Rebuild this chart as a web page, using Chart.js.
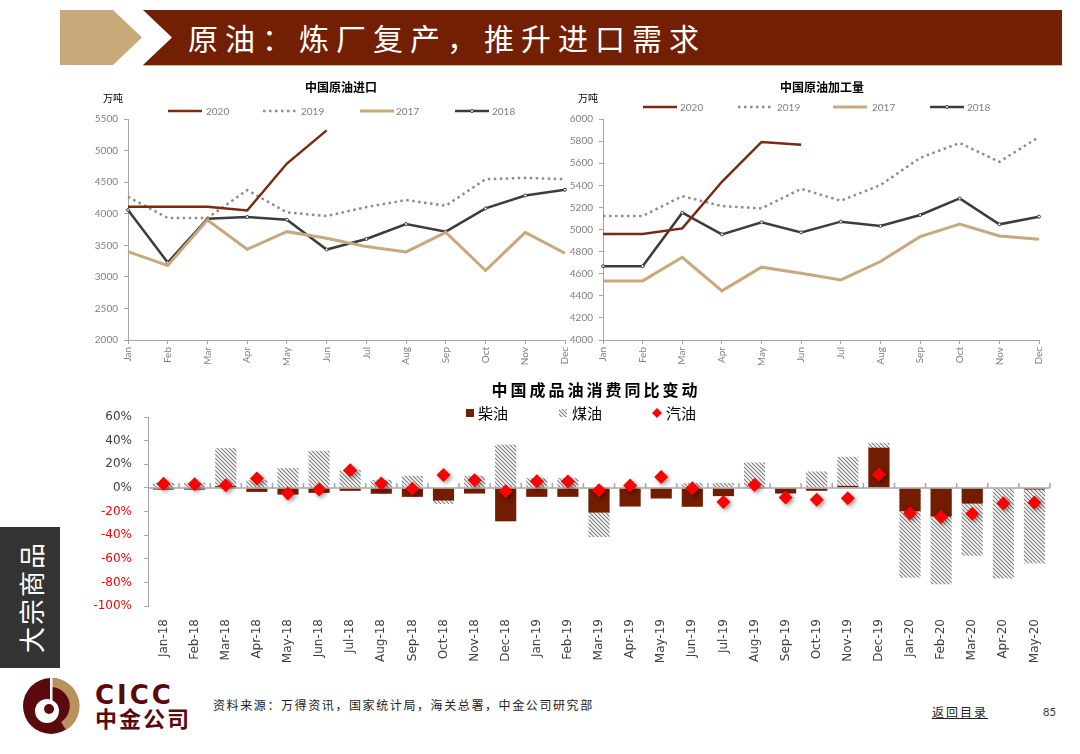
<!DOCTYPE html>
<html>
<head>
<meta charset="utf-8">
<script src="https://cdn.jsdelivr.net/npm/chart.js@4.4.0/dist/chart.umd.min.js"></script>
<style>
  body { margin: 0; width: 1080px; height: 754px; background: #fff; position: relative; overflow: hidden; font-family: "Noto Sans CJK SC", sans-serif; }
  .abs { position: absolute; }
  .tan { left: 60px; top: 10px; width: 82px; height: 55px; background: #c9a97a; clip-path: polygon(0 0, 53px 0, 82px 50%, 53px 100%, 0 100%); }
  .banner { left: 143px; top: 10px; width: 919px; height: 55px; background: #731f03; clip-path: polygon(0 0, 100% 0, 100% 100%, 0 100%, 29px 50%); }
  .bannerLine { left: 143px; top: 65px; width: 919px; height: 1px; background: #d8b89a; }
  .banner span { position: absolute; left: 45px; top: 0; line-height: 55px; font-size: 30px; color: #fff; letter-spacing: 7px; white-space: nowrap; }
  .tab { left: 0; top: 527px; width: 60px; height: 141px; background: #333; }
  .tab span { position: absolute; left: 30px; top: 70px; transform: translate(-50%, -50%) rotate(-90deg); color: #fff; font-size: 26px; letter-spacing: 2px; white-space: nowrap; }
  .cicc { left: 95px; top: 680px; font: bold 26px "DejaVu Sans", sans-serif; color: #5a0a0e; letter-spacing: 3px; }
  .zj { left: 95px; top: 704px; font-weight: bold; font-size: 22px; color: #5a0a0e; letter-spacing: 2px; line-height: 26px; }
  .src { left: 213px; top: 696px; font-size: 12px; color: #222; letter-spacing: 1.6px; white-space: nowrap; line-height: 18px; }
  .back { left: 932px; top: 703px; font-size: 12px; color: #222; letter-spacing: 2px; text-decoration: underline; line-height: 18px; }
  .page { left: 1043px; top: 704px; font: 11px Lato, sans-serif; color: #333; line-height: 16px; }
  canvas { position: absolute; }
</style>
</head>
<body>
<div class="abs tan"></div>
<div class="abs banner"><span>原油：炼厂复产，推升进口需求</span></div>
<div class="abs bannerLine"></div>
<div class="abs tab"><span>大宗商品</span></div>

<svg class="abs" style="left:20px;top:676px" width="64" height="62" viewBox="20 676 64 62">
  <circle cx="51" cy="706" r="28" fill="#5a0a0e"/>
  <path d="M51 678 A28 28 0 0 1 66 730 L61 722 A19 19 0 0 0 51 687 Z" fill="#b8915c"/>
  <circle cx="47" cy="711" r="12" fill="#fff"/>
  <circle cx="49" cy="709" r="5" fill="#5a0a0e"/>
  <rect x="50" y="678" width="2.5" height="26" fill="#fff"/>
</svg>
<div class="abs cicc">CICC</div>
<div class="abs zj">中金公司</div>
<div class="abs src">资料来源：万得资讯，国家统计局，海关总署，中金公司研究部</div>
<div class="abs back">返回目录</div>
<div class="abs page">85</div>

<canvas id="imp" width="520" height="290" style="left:60px;top:80px;width:520px;height:290px"></canvas>
<canvas id="run" width="505" height="290" style="left:555px;top:80px;width:505px;height:290px"></canvas>
<canvas id="yoy" width="1010" height="320" style="left:60px;top:375px;width:1010px;height:320px"></canvas>

<script>
// ---- data ----
const months = ['Jan', 'Feb', 'Mar', 'Apr', 'May', 'Jun', 'Jul', 'Aug', 'Sep', 'Oct', 'Nov', 'Dec'];

// 中国原油进口 (万吨)
const import2020 = [4110, 4110, 4110, 4050, 4795, 5320];
const import2019 = [4268, 3932, 3932, 4374, 4021, 3963, 4105, 4216, 4126, 4547, 4568, 4547];
const import2017 = [3400, 3179, 3900, 3437, 3716, 3611, 3479, 3395, 3705, 3100, 3705, 3374];
const import2018 = [4058, 3226, 3921, 3947, 3905, 3432, 3600, 3837, 3716, 4084, 4289, 4379];

// 中国原油加工量 (万吨)
const run2020 = [4959, 4959, 5010, 5432, 5792, 5768];
const run2019 = [5122, 5122, 5302, 5212, 5191, 5368, 5260, 5402, 5648, 5783, 5612, 5838];
const run2017 = [4535, 4535, 4749, 4445, 4659, 4605, 4544, 4710, 4935, 5050, 4941, 4911];
const run2018 = [4668, 4668, 5152, 4956, 5065, 4974, 5071, 5032, 5131, 5281, 5047, 5116];

// 中国成品油消费同比变动 (%)
const yoyMonths = ['Jan-18', 'Feb-18', 'Mar-18', 'Apr-18', 'May-18', 'Jun-18', 'Jul-18', 'Aug-18', 'Sep-18', 'Oct-18', 'Nov-18', 'Dec-18',
  'Jan-19', 'Feb-19', 'Mar-19', 'Apr-19', 'May-19', 'Jun-19', 'Jul-19', 'Aug-19', 'Sep-19', 'Oct-19', 'Nov-19', 'Dec-19',
  'Jan-20', 'Feb-20', 'Mar-20', 'Apr-20', 'May-20'];
const diesel = [-1.5, -1.5, 1.5, -3.4, -5.7, -4.2, -2.5, -5, -7.6, -10.7, -4.8, -28.3,
  -7.6, -7.6, -20.9, -15.8, -9, -16, -7, 0.5, -4.8, -2.5, 1.7, 34,
  -19.8, -24.3, -13.3, 0, -1.4];
const kerosene = [4.2, 4.2, 33.7, 6.5, 16.7, 31.4, 15, 6.8, 10.2, -13.6, 10.2, 36.8,
  8.2, 8.2, -41.6, -5, -3, 4.2, 4.2, 21.5, -2, 13.9, 26.3, 38.2,
  -76, -81.5, -57.4, -76.7, -64];
const gasoline = [3.4, 3, 2.3, 8, -4.8, -1.4, 15, 3.7, -0.8, 11, 6.5, -2.8,
  5.7, 5.4, -2, 2, 9.3, -0.3, -12, 2.5, -8.2, -10, -8.8, 11.3,
  -21.5, -24.6, -21.8, -13, -12.4];

// ---- helpers ----
function makeHatch() {
  const c = document.createElement('canvas');
  c.width = 4; c.height = 4;
  const g = c.getContext('2d');
  g.fillStyle = '#fff';
  g.fillRect(0, 0, 4, 4);
  g.strokeStyle = '#7a7a7a';
  g.lineWidth = 1.1;
  g.beginPath();
  g.moveTo(-1, -1); g.lineTo(5, 5);
  g.moveTo(-1, 3); g.lineTo(1, 5);
  g.moveTo(3, -1); g.lineTo(5, 1);
  g.stroke();
  return g.createPattern(c, 'repeat');
}

// titles, unit labels, legends, zero axis and marker shadow
const decor = {
  id: 'decor',
  beforeDatasetDraw(chart, args, opts) {
    if (args.index === opts.shadowIndex) {
      const ctx = chart.ctx;
      ctx.save();
      ctx.shadowColor = 'rgba(0,0,0,0.4)';
      ctx.shadowBlur = 4;
      ctx.shadowOffsetX = 2;
      ctx.shadowOffsetY = 2;
    }
  },
  afterDatasetDraw(chart, args, opts) {
    const ctx = chart.ctx;
    if (args.index === opts.shadowIndex) ctx.restore();
    if (opts.zeroAxis && args.index === opts.zeroAxis.after) {
      const x = chart.scales.x, y0 = chart.scales.y.getPixelForValue(0);
      const n = chart.data.labels.length;
      const step = (x.right - x.left) / n;
      ctx.save();
      ctx.strokeStyle = '#a6a6a6';
      ctx.lineWidth = 1.5;
      ctx.beginPath();
      ctx.moveTo(x.left, y0);
      ctx.lineTo(x.right, y0);
      for (let i = 1; i <= n; i++) {
        ctx.moveTo(x.left + i * step, y0);
        ctx.lineTo(x.left + i * step, y0 - 5);
      }
      ctx.stroke();
      ctx.restore();
    }
  },
  afterDraw(chart, args, opts) {
    const ctx = chart.ctx;
    ctx.save();
    ctx.textBaseline = 'middle';
    (opts.texts || []).forEach(t => {
      ctx.font = t.font;
      ctx.fillStyle = t.color || '#000';
      ctx.textAlign = t.align || 'left';
      if ('letterSpacing' in ctx) ctx.letterSpacing = (t.spacing || 0) + 'px';
      ctx.fillText(t.text, t.x, t.y);
    });
    if ('letterSpacing' in ctx) ctx.letterSpacing = '0px';
    const lg = opts.legend;
    if (lg) {
      ctx.textAlign = 'left';
      lg.items.forEach(it => {
        const ds = chart.data.datasets[it.index];
        const y = lg.y;
        ctx.save();
        if (it.sym === 'line') {
          ctx.strokeStyle = ds.borderColor;
          ctx.lineWidth = ds.borderWidth;
          ctx.setLineDash(ds.borderDash || []);
          ctx.beginPath();
          ctx.moveTo(it.x, y);
          ctx.lineTo(it.x + lg.len, y);
          ctx.stroke();
          if (ds.pointRadius > 0) {
            ctx.setLineDash([]);
            ctx.lineWidth = 1;
            ctx.fillStyle = ds.pointBackgroundColor;
            ctx.strokeStyle = ds.pointBorderColor;
            ctx.beginPath();
            ctx.arc(it.x + lg.len / 2, y, ds.pointRadius, 0, Math.PI * 2);
            ctx.fill();
            ctx.stroke();
          }
        } else if (it.sym === 'box') {
          ctx.fillStyle = ds.backgroundColor;
          ctx.fillRect(it.x, y - 4, 8, 8);
        } else if (it.sym === 'diamond') {
          ctx.fillStyle = ds.backgroundColor;
          ctx.beginPath();
          ctx.moveTo(it.x, y - 5);
          ctx.lineTo(it.x + 5, y);
          ctx.lineTo(it.x, y + 5);
          ctx.lineTo(it.x - 5, y);
          ctx.closePath();
          ctx.fill();
        }
        ctx.restore();
        ctx.font = lg.font;
        ctx.fillStyle = lg.color;
        ctx.fillText(ds.label, it.textX, y + 0.5);
      });
    }
    ctx.restore();
  }
};

const grey = '#7f7f7f';
const axisGrey = '#a6a6a6';

function lineScales(min, max, step, yWidth) {
  return {
    x: {
      offset: false,
      grid: { drawOnChartArea: false, tickLength: 4, color: axisGrey },
      border: { color: axisGrey },
      ticks: { autoSkip: false, minRotation: 90, maxRotation: 90, padding: 3, color: grey, font: { family: 'Lato', size: 10 } },
      afterFit: s => { s.height = 25; }
    },
    y: {
      min: min, max: max,
      grid: { drawOnChartArea: false, tickLength: 4, color: axisGrey },
      border: { color: axisGrey },
      ticks: { stepSize: step, padding: 6, color: grey, font: { family: 'Lato', size: 10 },
        callback: v => String(v) },
      afterFit: s => { s.width = yWidth; }
    }
  };
}

function yearSets(d2020, d2019, d2017, d2018) {
  return [
    { label: '2020', data: d2020, borderColor: '#7a2a12', borderWidth: 2.5, pointRadius: 0 },
    { label: '2019', data: d2019, borderColor: '#8c8c8c', borderWidth: 2.5, borderDash: [2.5, 3.5], pointRadius: 0 },
    { label: '2017', data: d2017, borderColor: '#c9a97c', borderWidth: 3, pointRadius: 0 },
    { label: '2018', data: d2018, borderColor: '#3c3c3c', borderWidth: 2.5, pointRadius: 1.5,
      pointBackgroundColor: '#fff', pointBorderColor: '#3c3c3c', pointBorderWidth: 1 }
  ];
}

const titleFont = 'bold 12px "Noto Sans CJK SC"';
const unitFont = '10px "Noto Sans CJK SC"';
const smallLegendFont = '10px Lato';

new Chart(document.getElementById('imp'), {
  type: 'line',
  data: { labels: months, datasets: yearSets(import2020, import2019, import2017, import2018) },
  options: {
    responsive: false,
    animation: false,
    layout: { padding: { left: 18, right: 15, top: 39, bottom: 5 } },
    scales: lineScales(2000, 5500, 500, 50),
    plugins: {
      legend: { display: false },
      tooltip: { enabled: false },
      decor: {
        texts: [
          { text: '中国原油进口', x: 281, y: 7, font: titleFont, align: 'center' },
          { text: '万吨', x: 43, y: 18, font: unitFont }
        ],
        legend: {
          y: 31, len: 34, font: smallLegendFont, color: grey,
          items: [
            { index: 0, sym: 'line', x: 108, textX: 146 },
            { index: 1, sym: 'line', x: 203, textX: 241 },
            { index: 2, sym: 'line', x: 300, textX: 336 },
            { index: 3, sym: 'line', x: 395, textX: 432 }
          ]
        }
      }
    }
  },
  plugins: [decor]
});

new Chart(document.getElementById('run'), {
  type: 'line',
  data: { labels: months, datasets: yearSets(run2020, run2019, run2017, run2018) },
  options: {
    responsive: false,
    animation: false,
    layout: { padding: { left: 8, right: 21, top: 39, bottom: 5 } },
    scales: lineScales(4000, 6000, 200, 40),
    plugins: {
      legend: { display: false },
      tooltip: { enabled: false },
      decor: {
        texts: [
          { text: '中国原油加工量', x: 267, y: 7, font: titleFont, align: 'center' },
          { text: '万吨', x: 23, y: 18, font: unitFont }
        ],
        legend: {
          y: 27, len: 34, font: smallLegendFont, color: grey,
          items: [
            { index: 0, sym: 'line', x: 88, textX: 125 },
            { index: 1, sym: 'line', x: 183, textX: 222 },
            { index: 2, sym: 'line', x: 278, textX: 317 },
            { index: 3, sym: 'line', x: 375, textX: 412 }
          ]
        }
      }
    }
  },
  plugins: [decor]
});

new Chart(document.getElementById('yoy'), {
  type: 'bar',
  data: {
    labels: yoyMonths,
    datasets: [
      { type: 'bar', label: '柴油', data: diesel, backgroundColor: '#721c00', grouped: false, order: 1,
        barPercentage: 0.68, categoryPercentage: 1 },
      { type: 'bar', label: '煤油', data: kerosene, backgroundColor: makeHatch(), grouped: false, order: 2,
        barPercentage: 0.68, categoryPercentage: 1 },
      { type: 'line', label: '汽油', data: gasoline, showLine: false, order: 0,
        pointStyle: 'rectRot', pointRadius: 7, pointHoverRadius: 7, pointBorderWidth: 0,
        backgroundColor: '#ff0000', borderColor: '#ff0000' }
    ]
  },
  options: {
    responsive: false,
    animation: false,
    layout: { padding: { left: 8, right: 20, top: 42, bottom: 29 } },
    scales: {
      x: {
        grid: { display: false },
        border: { display: false },
        ticks: { autoSkip: false, minRotation: 90, maxRotation: 90, padding: 5, color: '#404040',
          font: { family: 'DejaVu Sans', size: 12 } },
        afterFit: s => { s.height = 60; }
      },
      y: {
        min: -100, max: 60,
        grid: { drawOnChartArea: false, tickLength: 4, color: axisGrey },
        border: { color: axisGrey },
        ticks: { stepSize: 20, padding: 12, font: { family: 'DejaVu Sans', size: 12 },
          color: c => c.tick.value < 0 ? '#ff0000' : '#404040',
          callback: v => v + '%' },
        afterFit: s => { s.width = 80; }
      }
    },
    plugins: {
      legend: { display: false },
      tooltip: { enabled: false },
      decor: {
        shadowIndex: 2,
        zeroAxis: { after: 0 },
        texts: [
          { text: '中国成品油消费同比变动', x: 536, y: 15, font: 'bold 16px "Noto Sans CJK SC"', align: 'center', spacing: 3 }
        ],
        legend: {
          y: 38, font: '15px "Noto Sans CJK SC"', color: '#000',
          items: [
            { index: 0, sym: 'box', x: 406, textX: 418 },
            { index: 1, sym: 'box', x: 499, textX: 512 },
            { index: 2, sym: 'diamond', x: 597, textX: 606 }
          ]
        }
      }
    }
  },
  plugins: [decor]
});
</script>
</body>
</html>
